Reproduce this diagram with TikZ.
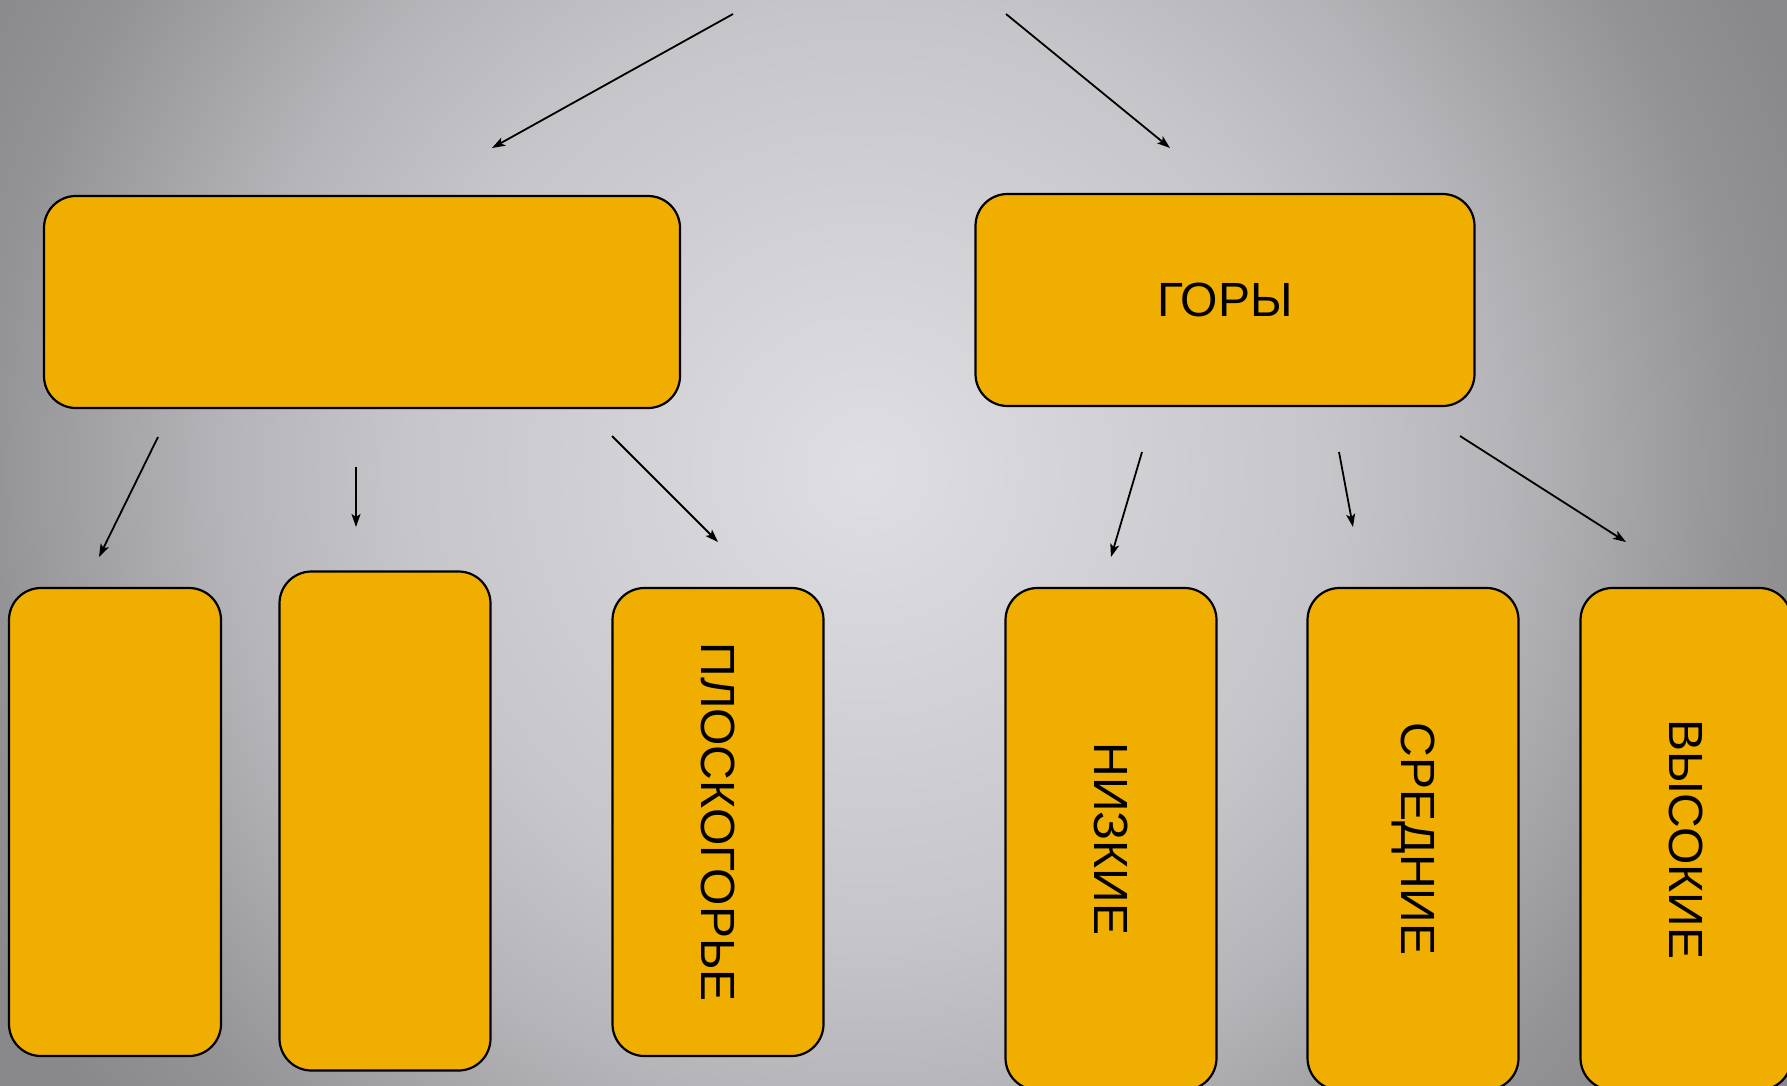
\documentclass[tikz,border=0pt]{standalone}
\usepackage{fontspec}
\setmainfont{Liberation Sans}
\usepackage{graphicx}
\usepackage{tikz}
\usetikzlibrary{positioning, arrows.meta}

\definecolor{Blok}{HTML}{F0AE00}
\definecolor{BgIn}{HTML}{DFDFE3}
\definecolor{BgMid}{HTML}{C6C6CA}
\definecolor{BgLow}{HTML}{B5B5B9}
\definecolor{BgDark}{HTML}{939396}
\definecolor{BgOut}{HTML}{89898B}
\pgfdeclareradialshading{fon}{\pgfpoint{0bp}{0bp}}{color(0bp)=(BgIn); color(11.5bp)=(BgMid); color(16bp)=(BgLow); color(22bp)=(BgDark); color(25bp)=(BgOut); color(50bp)=(BgOut)}

\begin{document}
\begin{tikzpicture}[
        x=1pt, y=-1pt,
        blok/.style = {
            draw=black,
            line width=2.2pt,
            fill=Blok,
            rounded corners=32pt,
            inner sep=0pt,
            font=\fontsize{48}{52}\selectfont
        },
        strelka/.style = {
            line width=1.8pt,
            -{Stealth[length=13pt, width=9pt, inset=3pt]}
        }
    ]
        \useasboundingbox (0,0) rectangle (1787,1086);
        \clip (0,0) rectangle (1787,1086);
        \shade[shading=fon] (-134,-530) rectangle (1866,1470);

        % top row
        \node[blok, minimum width=636pt, minimum height=212pt] (ravniny) at (362,302) {};
        \node[blok, minimum width=499pt, minimum height=212pt] (gory) at (1225,300) {ГОРЫ};

        % bottom row
        \node[blok, minimum width=212pt, minimum height=468pt] (nizm) at (115,822) {};
        \node[blok, minimum width=211pt, minimum height=499pt] (vozv) at (385,821) {};
        \node[blok, minimum width=211pt, minimum height=468pt] (plato) at (718,822) {\rotatebox{-90}{ПЛОСКОГОРЬЕ}};
        \node[blok, minimum width=211pt, minimum height=502pt] (nizkie) at (1111,839) {\rotatebox{-90}{НИЗКИЕ}};
        \node[blok, minimum width=211pt, minimum height=502pt] (srednie) at (1413,839) {\rotatebox{-90}{СРЕДНИЕ}};
        \node[blok, minimum width=211pt, minimum height=502pt] (vysokie) at (1686,839) {\rotatebox{-90}{ВЫСОКИЕ}};

        % arrow ends
        \coordinate (s1) at (733,14);   \coordinate (e1) at (492,148);
        \coordinate (s2) at (1006,14);  \coordinate (e2) at (1170,148);
        \coordinate (s3) at (158,437);  \coordinate (e3) at (99,557);
        \coordinate (s4) at (356,467);  \coordinate (e4) at (356,527);
        \coordinate (s5) at (612,436);  \coordinate (e5) at (718,542);
        \coordinate (s6) at (1142,452); \coordinate (e6) at (1111,557);
        \coordinate (s7) at (1339,452); \coordinate (e7) at (1353,527);
        \coordinate (s8) at (1460,436); \coordinate (e8) at (1626,542);

        \foreach \i in {1,...,8}
            \draw[strelka] (s\i) -- (e\i);
    \end{tikzpicture}
\end{document}
